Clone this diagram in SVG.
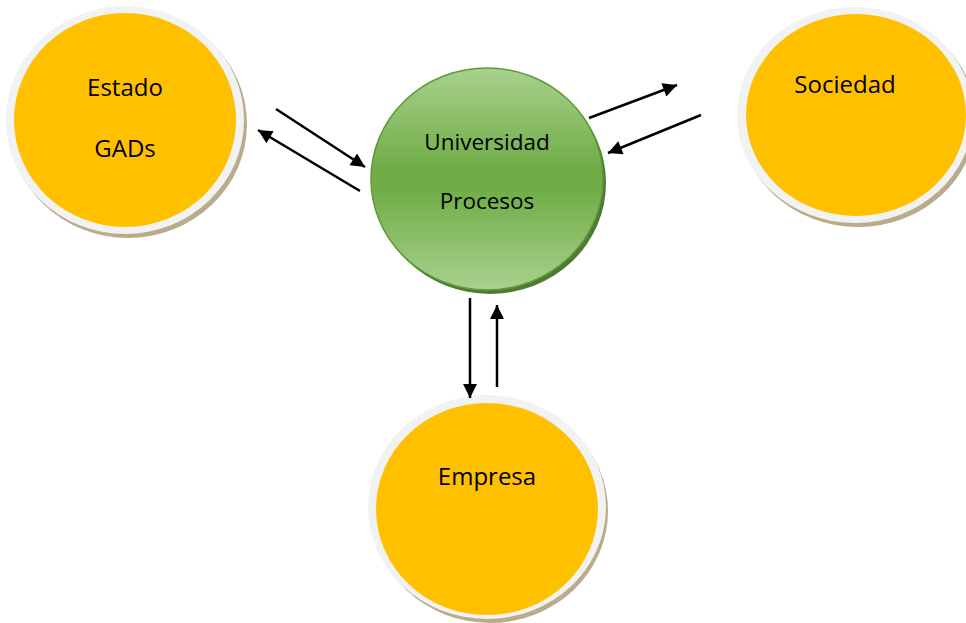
<svg xmlns="http://www.w3.org/2000/svg" width="966" height="623" viewBox="0 0 966 623">
<defs>
<style>
.shadow{fill:#b9ab8c}
.ring{fill:#f2f2f2}
.yel{fill:#ffc000}
.lbl{font-family:"Open Sans","Liberation Sans",sans-serif;font-size:24px;fill:#000;text-anchor:middle}
.lbs{font-family:"Open Sans","Liberation Sans",sans-serif;font-size:22.5px;fill:#000;text-anchor:middle}
.arr{stroke:#000;stroke-width:2.5;fill:none;marker-end:url(#ah)}
</style>
<linearGradient id="gg" x1="0" y1="0" x2="0" y2="1">
<stop offset="0" stop-color="#a9d18e"/>
<stop offset="0.45" stop-color="#70ad47"/>
<stop offset="0.55" stop-color="#70ad47"/>
<stop offset="1" stop-color="#a9d18e"/>
</linearGradient>
<marker id="ah" viewBox="0 0 10 10" refX="10" refY="5" markerWidth="17" markerHeight="14" markerUnits="userSpaceOnUse" orient="auto">
<path d="M0,0 L10,5 L0,10 z" fill="#000"/>
</marker>
</defs>
<rect width="966" height="623" fill="#fff"/>
<g id="estado">
<ellipse class="shadow" cx="128" cy="124" rx="119" ry="114"/>
<ellipse class="ring" cx="125" cy="120" rx="119" ry="114"/>
<ellipse class="yel" cx="125" cy="120" rx="111" ry="107"/>
<text class="lbl" x="125" y="96">Estado</text>
<text class="lbl" x="125" y="157">GADs</text>
</g>
<g id="sociedad">
<ellipse class="shadow" cx="858" cy="119" rx="118" ry="108"/>
<ellipse class="ring" cx="855" cy="115" rx="118" ry="108"/>
<ellipse class="yel" cx="856" cy="115" rx="110" ry="101"/>
<text class="lbl" x="845" y="93">Sociedad</text>
</g>
<g id="empresa">
<ellipse class="shadow" cx="490" cy="511" rx="118" ry="112"/>
<ellipse class="ring" cx="487" cy="507" rx="119" ry="112"/>
<ellipse class="yel" cx="487" cy="509" rx="111" ry="106"/>
<text class="lbl" x="487" y="485">Empresa</text>
</g>
<g id="universidad">
<ellipse cx="490" cy="183" rx="116" ry="111" fill="#4e7a31"/>
<ellipse cx="487" cy="179" rx="116" ry="111" fill="url(#gg)" stroke="#5e9a3a" stroke-width="1.5"/>
<text class="lbs" x="487" y="150">Universidad</text>
<text class="lbs" x="487" y="209">Procesos</text>
</g>
<g id="connectors">
<line class="arr" x1="276" y1="109" x2="365" y2="167"/>
<line class="arr" x1="360" y1="191" x2="258" y2="130"/>
<line class="arr" x1="589" y1="118" x2="677" y2="85"/>
<line class="arr" x1="701" y1="115" x2="608" y2="153"/>
<line class="arr" x1="470" y1="298" x2="470" y2="398"/>
<line class="arr" x1="497" y1="387" x2="497" y2="305"/>
</g>
</svg>
